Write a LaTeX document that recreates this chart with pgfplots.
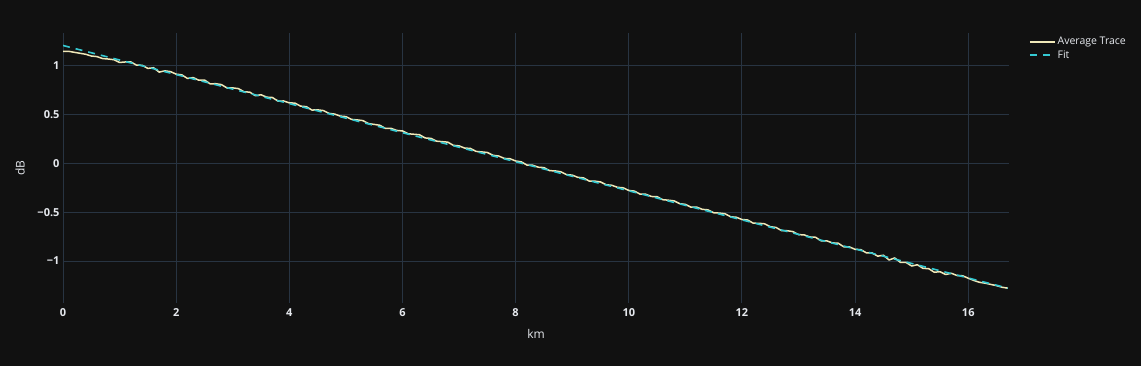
\documentclass[border=0pt]{standalone}
\usepackage{pgfplots}
\pgfplotsset{compat=1.18}
\usepackage{fontspec}
\setmainfont{Open Sans}
\definecolor{bg}{HTML}{111111}
\definecolor{gridc}{HTML}{283442}
\definecolor{txt}{HTML}{E6E9EE}
\definecolor{trace}{HTML}{F0E8B8}
\definecolor{fitc}{HTML}{35C9D2}
\begin{document}
\begin{tikzpicture}[x=1pt,y=1pt]
\fill[bg] (0,0) rectangle (1141,366);
\begin{axis}[
  at={(63pt,63pt)}, anchor=south west,
  scale only axis, width=946pt, height=270pt,
  xmin=0, xmax=16.72, ymin=-1.43, ymax=1.338,
  axis line style={draw=none},
  tick style={draw=none},
  grid=major,
  major grid style={gridc, line width=1pt},
  xtick={0,2,...,16}, ytick={-1,-0.5,0,0.5,1},
  yticklabels={−1,−0.5,0,0.5,1},
  ticklabel style={font=\fontsize{11}{13}\selectfont\bfseries, text=txt},
  /pgf/number format/assume math mode=true,
  xticklabel style={yshift=-2pt},
  xlabel={km}, ylabel={dB},
  label style={font=\fontsize{12}{14}\selectfont, text=txt},
  xlabel style={yshift=-6pt},
  ylabel style={yshift=6pt},
  legend style={at={(1.021,0.992)}, anchor=north west, draw=none, fill=none,
     text=txt, font=\fontsize{10.5}{12}\selectfont, row sep=0pt,
     inner sep=0pt, nodes={inner sep=2pt}},
  legend cell align=left,
  legend image code/.code={\draw[#1] (0pt,0pt) -- (25pt,0pt);},
]
\addplot[trace, line width=1.5pt, line join=round] coordinates {
(0.0,1.150)(0.1,1.150)(0.2,1.140)(0.3,1.130)(0.4,1.120)(0.5,1.102)(0.6,1.096)(0.7,1.076)(0.8,1.071)(0.9,1.064)
(1.0,1.036)(1.1,1.041)(1.2,1.041)(1.3,1.008)(1.4,1.007)(1.5,0.975)(1.6,0.982)(1.7,0.937)(1.8,0.950)(1.9,0.942)
(2.0,0.916)(2.1,0.909)(2.2,0.872)(2.3,0.881)(2.4,0.854)(2.5,0.856)(2.6,0.817)(2.7,0.818)(2.8,0.809)(2.9,0.774)
(3.0,0.775)(3.1,0.768)(3.2,0.735)(3.3,0.732)(3.4,0.695)(3.5,0.705)(3.6,0.680)(3.7,0.677)(3.8,0.640)(3.9,0.641)
(4.0,0.622)(4.1,0.619)(4.2,0.588)(4.3,0.583)(4.4,0.548)(4.5,0.550)(4.6,0.543)(4.7,0.514)(4.8,0.507)(4.9,0.486)
(5.0,0.481)(5.1,0.452)(5.2,0.447)(5.3,0.440)(5.4,0.409)(5.5,0.401)(5.6,0.392)(5.7,0.359)(5.8,0.360)(5.9,0.339)
(6.0,0.334)(6.1,0.305)(6.2,0.300)(6.3,0.295)(6.4,0.262)(6.5,0.258)(6.6,0.229)(6.7,0.224)(6.8,0.219)(6.9,0.186)
(7.0,0.181)(7.1,0.158)(7.2,0.155)(7.3,0.124)(7.4,0.119)(7.5,0.113)(7.6,0.084)(7.7,0.077)(7.8,0.052)(7.9,0.049)
(8.0,0.026)(8.1,0.017)(8.2,-0.016)(8.3,-0.017)(8.4,-0.038)(8.5,-0.042)(8.6,-0.073)(8.7,-0.076)(8.8,-0.085)(8.9,-0.114)
(9.0,-0.119)(9.1,-0.142)(9.2,-0.147)(9.3,-0.180)(9.4,-0.181)(9.5,-0.189)(9.6,-0.218)(9.7,-0.223)(9.8,-0.244)(9.9,-0.249)
(10.0,-0.276)(10.1,-0.283)(10.2,-0.314)(10.3,-0.315)(10.4,-0.338)(10.5,-0.340)(10.6,-0.371)(10.7,-0.376)(10.8,-0.383)(10.9,-0.412)
(11.0,-0.419)(11.1,-0.448)(11.2,-0.447)(11.3,-0.470)(11.4,-0.475)(11.5,-0.505)(11.6,-0.508)(11.7,-0.515)(11.8,-0.546)(11.9,-0.551)
(12.0,-0.574)(12.1,-0.579)(12.2,-0.612)(12.3,-0.613)(12.4,-0.618)(12.5,-0.648)(12.6,-0.655)(12.7,-0.688)(12.8,-0.689)(12.9,-0.698)
(13.0,-0.729)(13.1,-0.732)(13.2,-0.753)(13.3,-0.756)(13.4,-0.793)(13.5,-0.793)(13.6,-0.814)(13.7,-0.817)(13.8,-0.854)(13.9,-0.855)
(14.0,-0.880)(14.1,-0.883)(14.2,-0.916)(14.3,-0.917)(14.4,-0.950)(14.5,-0.940)(14.6,-0.989)(14.7,-0.968)(14.8,-1.013)(14.9,-1.014)
(15.0,-1.051)(15.1,-1.038)(15.2,-1.075)(15.3,-1.078)(15.4,-1.115)(15.5,-1.109)(15.6,-1.138)(15.7,-1.125)(15.8,-1.148)(15.9,-1.151)
(16.0,-1.176)(16.1,-1.199)(16.2,-1.218)(16.3,-1.227)(16.4,-1.240)(16.5,-1.252)(16.6,-1.269)(16.7,-1.278)
};
\addlegendentry{Average Trace}
\addplot[fitc, line width=1.6pt, dash pattern=on 7pt off 6pt] coordinates {
(0,1.210)(16.7,-1.278)
};
\addlegendentry{Fit}
\end{axis}
\end{tikzpicture}
\end{document}
